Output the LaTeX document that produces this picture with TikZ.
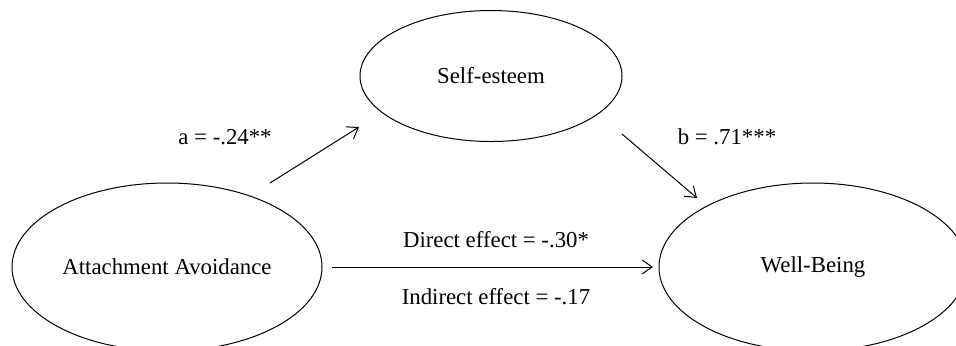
\documentclass[tikz,border=0pt]{standalone}
\usepackage{fontspec}
\setmainfont{Liberation Serif}
\usetikzlibrary{arrows.meta,shapes.geometric}

\begin{document}
\begin{tikzpicture}[
  x=0.5pt,y=-0.5pt,
  var/.style={draw,ellipse,line width=0.5pt,inner sep=0pt},
  path/.style={-{Straight Barb[length=5pt,width=7pt]},line width=0.5pt},
  lbl/.style={inner sep=0pt},
  every node/.style={font=\fontsize{11.4}{13}\selectfont}]
\clip (0,0) rectangle (956,345);
\useasboundingbox (0,0) rectangle (956,345);
\node[var,minimum width=155pt,minimum height=84pt] (avoid) at (167,267) {Attachment Avoidance};
\node[var,minimum width=154pt,minimum height=84pt] (well) at (813,267) {Well-Being};
\node[var,minimum width=131pt,minimum height=65.5pt] (self) at (491,76) {Self-esteem};
% arrow ends sit in the gaps between the ellipses
\coordinate (a0) at (270,183);
\coordinate (a1) at (359,127);
\coordinate (b0) at (622,134);
\coordinate (b1) at (697,198);
\coordinate (c0) at (332,267);
\coordinate (c1) at (653,267);
\foreach \a/\b in {a0/a1,b0/b1,c0/c1}
  \draw[path] (\a)--(\b);
\node[lbl] (alabel) at (225,137) {a = -.24**};
\node[lbl] (blabel) at (727,137) {b = .71***};
\node[lbl] (direct) at (496,240) {Direct effect = -.30*};
\node[lbl] (indirect) at (496,297) {Indirect effect = -.17};
\end{tikzpicture}
\end{document}
